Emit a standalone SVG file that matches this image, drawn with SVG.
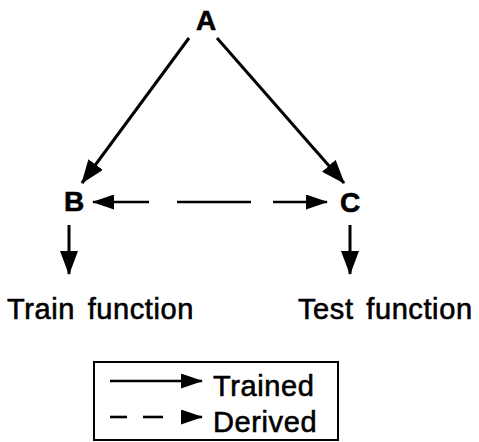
<svg xmlns="http://www.w3.org/2000/svg" width="479" height="442" viewBox="0 0 479 442">
  <style>
    .lbl { font-family: "Liberation Sans", Arial, sans-serif; fill: #000; stroke: #000; stroke-width: 0.6; }
    .node { font-weight: bold; font-size: 28px; text-anchor: middle; stroke-width: 0.6; }
    .txt { font-size: 29px; letter-spacing: 0.6px; word-spacing: 4px; }
    .ln { stroke: #000; stroke-width: 3; fill: none; }
    .dash { stroke: #000; stroke-width: 2.6; fill: none; }
    .box { stroke: #000; stroke-width: 2; fill: none; }
  </style>
  <defs>
    <marker id="head" markerWidth="24" markerHeight="18" refX="23" refY="9" orient="auto" markerUnits="userSpaceOnUse">
      <path d="M0,0 L24,9 L0,18 Z" fill="#000"/>
    </marker>
    <marker id="headS" markerWidth="22" markerHeight="15" refX="21" refY="7.5" orient="auto" markerUnits="userSpaceOnUse">
      <path d="M0,0 L22,7.5 L0,15 Z" fill="#000"/>
    </marker>
  </defs>

  <g id="node-A"><text class="lbl node" x="206" y="30">A</text></g>
  <g id="node-B"><text class="lbl node" x="74" y="211">B</text></g>
  <g id="node-C"><text class="lbl node" x="350" y="212">C</text></g>
  <g id="node-train"><text class="lbl txt" x="7" y="319">Train function</text></g>
  <g id="node-test"><text class="lbl txt" x="298" y="319">Test function</text></g>

  <g id="connectors">
    <!-- trained links from A -->
    <line class="ln" x1="189" y1="38" x2="82" y2="183" marker-end="url(#head)"/>
    <line class="ln" x1="217" y1="38" x2="344" y2="183" marker-end="url(#head)"/>
    <!-- derived link between B and C -->
    <line class="dash" x1="149" y1="202" x2="93" y2="202" marker-end="url(#headS)"/>
    <line class="dash" x1="177" y1="202" x2="251" y2="202"/>
    <line class="dash" x1="273" y1="202" x2="327" y2="202" marker-end="url(#headS)"/>
    <!-- outputs -->
    <line class="ln" x1="69" y1="225" x2="69" y2="274" marker-end="url(#head)"/>
    <line class="ln" x1="350" y1="225" x2="350" y2="274" marker-end="url(#head)"/>
  </g>

  <g id="legend">
    <rect class="box" x="94" y="362" width="244" height="78"/>
    <line class="dash" x1="110" y1="381" x2="202" y2="381" marker-end="url(#headS)"/>
    <line class="dash" x1="110" y1="417" x2="127" y2="417"/>
    <line class="dash" x1="143" y1="417" x2="163" y2="417"/>
    <line class="dash" x1="182" y1="417" x2="202" y2="417" marker-end="url(#headS)"/>
    <text class="lbl txt" x="213" y="396">Trained</text>
    <text class="lbl txt" x="213" y="432">Derived</text>
  </g>
</svg>
